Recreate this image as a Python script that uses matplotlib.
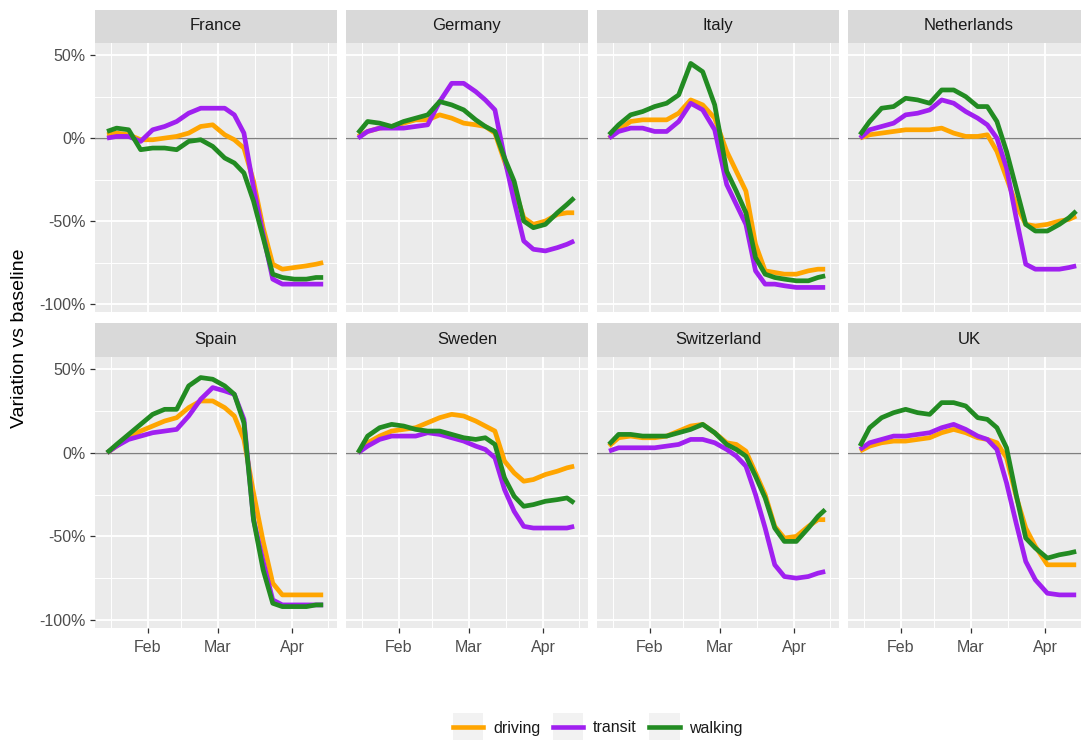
import numpy as np
import pandas as pd
import matplotlib
matplotlib.use("Agg")
import matplotlib.pyplot as plt
import matplotlib.dates as mdates
from matplotlib.legend_handler import HandlerLine2D
from matplotlib.lines import Line2D
from matplotlib.patches import Rectangle

plt.rcParams["font.family"] = ["Liberation Sans", "DejaVu Sans"]

# days after 2020-01-15 (smoothed series, sampled at the turning points)
day_offsets = [0, 4, 9, 14, 19, 24, 29, 34, 39, 44, 49, 53, 57, 61, 65, 69, 73, 78, 83, 87, 90]

countries = ["France", "Germany", "Italy", "Netherlands",
             "Spain", "Sweden", "Switzerland", "UK"]
modes = ["driving", "transit", "walking"]
mode_colors = {"driving": "#FFA500", "transit": "#A020F0", "walking": "#228B22"}

# % change vs baseline
france_driving = [2, 3, 2, -1, -1, 0, 1, 3, 7, 8, 2, -1, -6, -26, -54, -76, -79, -78, -77, -76, -75]
france_transit = [0, 1, 1, -2, 5, 7, 10, 15, 18, 18, 18, 14, 3, -30, -58, -85, -88, -88, -88, -88, -88]
france_walking = [4, 6, 5, -7, -6, -6, -7, -2, -1, -5, -12, -15, -21, -38, -60, -82, -84, -85, -85, -84, -84]

germany_driving = [1, 4, 6, 7, 9, 11, 11, 14, 12, 9, 8, 7, 3, -14, -30, -48, -52, -50, -46, -45, -45]
germany_transit = [0, 4, 6, 6, 6, 7, 8, 22, 33, 33, 28, 23, 17, -12, -38, -62, -67, -68, -66, -64, -62]
germany_walking = [3, 10, 9, 7, 10, 12, 14, 22, 20, 17, 11, 7, 4, -12, -26, -50, -54, -52, -45, -40, -36]

italy_driving = [0, 5, 10, 11, 11, 11, 15, 23, 20, 12, -8, -20, -32, -64, -80, -81, -82, -82, -80, -79, -79]
italy_transit = [0, 4, 6, 6, 4, 4, 10, 21, 17, 5, -28, -40, -52, -80, -88, -88, -89, -90, -90, -90, -90]
italy_walking = [2, 8, 14, 16, 19, 21, 26, 45, 40, 20, -20, -32, -45, -72, -82, -84, -85, -86, -86, -84, -83]

netherlands_driving = [0, 2, 3, 4, 5, 5, 5, 6, 3, 1, 1, 2, -8, -24, -40, -52, -53, -52, -50, -49, -47]
netherlands_transit = [0, 5, 7, 9, 14, 15, 17, 23, 21, 16, 12, 8, 0, -18, -48, -76, -79, -79, -79, -78, -77]
netherlands_walking = [2, 10, 18, 19, 24, 23, 21, 29, 29, 25, 19, 19, 10, -8, -30, -52, -56, -56, -52, -48, -44]

spain_driving = [0, 4, 9, 13, 16, 19, 21, 27, 31, 31, 27, 22, 8, -24, -53, -78, -85, -85, -85, -85, -85]
spain_transit = [0, 4, 8, 10, 12, 13, 14, 22, 32, 39, 37, 35, 20, -40, -65, -88, -91, -91, -91, -91, -91]
spain_walking = [0, 5, 11, 17, 23, 26, 26, 40, 45, 44, 40, 35, 18, -40, -70, -90, -92, -92, -92, -91, -91]

sweden_driving = [0, 6, 10, 13, 14, 15, 18, 21, 23, 22, 19, 16, 13, -5, -12, -17, -16, -13, -11, -9, -8]
sweden_transit = [0, 4, 8, 10, 10, 10, 12, 11, 9, 7, 4, 2, -3, -22, -35, -44, -45, -45, -45, -45, -44]
sweden_walking = [0, 10, 15, 17, 16, 14, 13, 13, 11, 9, 8, 9, 5, -15, -26, -32, -31, -29, -28, -27, -30]

switzerland_driving = [4, 9, 10, 9, 9, 10, 13, 16, 17, 12, 6, 5, 1, -12, -25, -44, -51, -50, -44, -40, -40]
switzerland_transit = [1, 3, 3, 3, 3, 4, 5, 8, 8, 6, 2, -2, -8, -25, -45, -67, -74, -75, -74, -72, -71]
switzerland_walking = [5, 11, 11, 10, 10, 10, 12, 14, 17, 12, 5, 2, -2, -14, -27, -45, -53, -53, -45, -38, -34]

uk_driving = [1, 4, 6, 7, 7, 8, 9, 12, 14, 12, 9, 8, 6, -3, -26, -45, -56, -67, -67, -67, -67]
uk_transit = [2, 6, 8, 10, 10, 11, 12, 15, 17, 14, 10, 8, 2, -18, -42, -65, -76, -84, -85, -85, -85]
uk_walking = [4, 15, 21, 24, 26, 24, 23, 30, 30, 28, 21, 20, 15, 3, -25, -51, -57, -63, -61, -60, -59]

series = {
    "France": [france_driving, france_transit, france_walking],
    "Germany": [germany_driving, germany_transit, germany_walking],
    "Italy": [italy_driving, italy_transit, italy_walking],
    "Netherlands": [netherlands_driving, netherlands_transit, netherlands_walking],
    "Spain": [spain_driving, spain_transit, spain_walking],
    "Sweden": [sweden_driving, sweden_transit, sweden_walking],
    "Switzerland": [switzerland_driving, switzerland_transit, switzerland_walking],
    "UK": [uk_driving, uk_transit, uk_walking],
}

dates = pd.Timestamp("2020-01-15") + pd.to_timedelta(day_offsets, unit="D")

W, H = 1081, 740
fig = plt.figure(figsize=(W / 100, H / 100), dpi=100)
fig.patch.set_facecolor("white")


def rect(x0, y0, x1, y1):
    return [x0 / W, 1 - y1 / H, (x1 - x0) / W, (y1 - y0) / H]


col_left = [95, 346, 597, 848]
panel_w = 242
rows = [(10, 43, 312), (323, 357, 628)]  # strip top, panel top, panel bottom

x_min = pd.Timestamp("2020-01-10")
x_max = pd.Timestamp("2020-04-19 18:00")
minor_x = [mdates.date2num(pd.Timestamp(d)) for d in
           ["2020-01-16 12:00", "2020-02-15", "2020-03-16 12:00", "2020-04-16"]]

for i, country in enumerate(countries):
    r, c = divmod(i, 4)
    s_top, p_top, p_bot = rows[r]
    x0 = col_left[c]

    # facet strip
    sax = fig.add_axes(rect(x0, s_top, x0 + panel_w, p_top))
    sax.set_facecolor("#D9D9D9")
    sax.set_xticks([])
    sax.set_yticks([])
    for sp in sax.spines.values():
        sp.set_visible(False)
    sax.text(0.5, 0.52, country, ha="center", va="center",
             fontsize=12, color="#1A1A1A", transform=sax.transAxes)

    ax = fig.add_axes(rect(x0, p_top, x0 + panel_w, p_bot))
    ax.set_facecolor("#EBEBEB")
    for sp in ax.spines.values():
        sp.set_visible(False)

    ax.set_xlim(x_min, x_max)
    ax.set_ylim(-104.8, 57.3)
    ax.set_yticks([-100, -50, 0, 50])
    ax.set_yticks([-75, -25, 25], minor=True)
    ax.set_yticklabels(["-100%", "-50%", "0%", "50%"])
    ax.xaxis.set_major_locator(mdates.MonthLocator())
    ax.xaxis.set_major_formatter(mdates.DateFormatter("%b"))
    ax.xaxis.set_minor_locator(matplotlib.ticker.FixedLocator(minor_x))

    ax.set_axisbelow(True)
    ax.grid(which="major", color="white", linewidth=1.3)
    ax.grid(which="minor", color="white", linewidth=0.7)
    ax.tick_params(which="minor", length=0)
    ax.tick_params(which="major", length=3.8, width=0.9, color="#333333",
                   labelsize=11.5, labelcolor="#4D4D4D")
    ax.tick_params(axis="x", pad=5)
    ax.tick_params(axis="y", pad=3)
    if c != 0:
        ax.tick_params(axis="y", left=False, labelleft=False)
    if r == 0:
        ax.tick_params(axis="x", bottom=False, labelbottom=False)

    ax.axhline(0, color="#7F7F7F", linewidth=1.0, zorder=1.5)

    for mode, vals in zip(modes, series[country]):
        ax.plot(dates, vals, color=mode_colors[mode], linewidth=3.4,
                solid_joinstyle="round", solid_capstyle="butt", zorder=2)

fig.text(20 / W, 1 - 338 / H, "Variation vs baseline", rotation=90,
         ha="center", va="center", fontsize=14, color="black")


class KeyHandler(HandlerLine2D):
    # line key drawn on a light grey square, like a ggplot legend key
    def create_artists(self, legend, orig_handle, xdescent, ydescent,
                       width, height, fontsize, trans):
        box_h = fontsize * 1.75
        bg = Rectangle((-xdescent, -ydescent + height / 2 - box_h / 2),
                       width, box_h, facecolor="#F2F2F2", edgecolor="none",
                       transform=trans)
        arts = super().create_artists(legend, orig_handle, xdescent, ydescent,
                                      width, height, fontsize, trans)
        return [bg] + list(arts)


handles = [Line2D([], [], color=mode_colors[m], linewidth=3.3) for m in modes]
leg = fig.legend(handles, modes, loc="center", ncol=3, frameon=False,
                 bbox_to_anchor=(598 / W, 1 - 728 / H), fontsize=11.5,
                 handlelength=1.9, handletextpad=0.6, columnspacing=0.8,
                 handler_map={Line2D: KeyHandler()})
for t in leg.get_texts():
    t.set_color("#1A1A1A")

fig.savefig("out.png", dpi=100)
